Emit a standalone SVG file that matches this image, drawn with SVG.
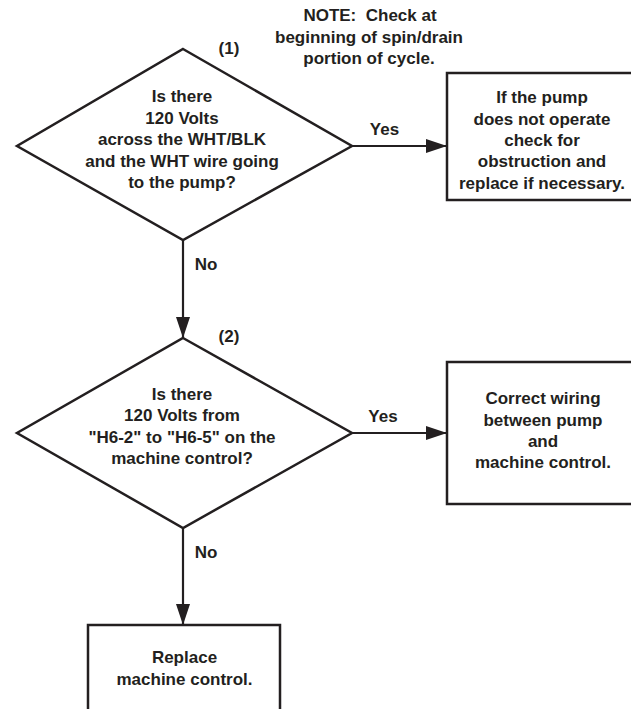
<svg xmlns="http://www.w3.org/2000/svg" width="631" height="709" viewBox="0 0 631 709">
<defs>
<style>
.t{font-family:"Liberation Sans",Arial,sans-serif;font-weight:bold;font-size:17px;fill:#231f20;text-anchor:middle}
.s{fill:#fff;stroke:#231f20;stroke-width:2.5}
.c{stroke:#231f20;stroke-width:2.2;fill:none}
</style>
<marker id="ah" markerWidth="21" markerHeight="14" refX="21" refY="7" orient="auto" markerUnits="userSpaceOnUse">
<path d="M0,0 L21,7 L0,14 Z" fill="#231f20"/>
</marker>
</defs>
<rect width="631" height="709" fill="#fff"/>
<g id="note">
<text class="t" x="370" y="21" xml:space="preserve" style="white-space:pre">NOTE:  Check at</text>
<text class="t" x="369" y="43">beginning of spin/drain</text>
<text class="t" x="369" y="64">portion of cycle.</text>
</g>
<g id="connectors">
<line class="c" x1="352" y1="146" x2="447" y2="146" marker-end="url(#ah)"/>
<line class="c" x1="183" y1="240" x2="183" y2="338" marker-end="url(#ah)"/>
<line class="c" x1="352" y1="433" x2="447" y2="433" marker-end="url(#ah)"/>
<line class="c" x1="183" y1="528" x2="183" y2="625" marker-end="url(#ah)"/>
<text class="t" x="384.5" y="135">Yes</text>
<text class="t" x="206" y="270">No</text>
<text class="t" x="383" y="422">Yes</text>
<text class="t" x="206" y="558">No</text>
</g>
<g id="decision1">
<polygon class="s" points="183,49 352,146 183,240 17,146"/>
<text class="t" x="229" y="54">(1)</text>
<text class="t" x="182" y="102">Is there</text>
<text class="t" x="182" y="123.5">120 Volts</text>
<text class="t" x="182" y="145">across the WHT/BLK</text>
<text class="t" x="182" y="166.5">and the WHT wire going</text>
<text class="t" x="182" y="188">to the pump?</text>
</g>
<g id="box1">
<rect class="s" x="447" y="73" width="200" height="127"/>
<text class="t" x="542" y="103">If the pump</text>
<text class="t" x="542" y="124.5">does not operate</text>
<text class="t" x="542" y="146">check for</text>
<text class="t" x="542" y="167">obstruction and</text>
<text class="t" x="542" y="188.5">replace if necessary.</text>
</g>
<g id="decision2">
<polygon class="s" points="183,338 352,433 183,528 17,433"/>
<text class="t" x="229" y="342">(2)</text>
<text class="t" x="182" y="400">Is there</text>
<text class="t" x="182" y="421.3">120 Volts from</text>
<text class="t" x="182" y="442.6">"H6-2" to "H6-5" on the</text>
<text class="t" x="182" y="464">machine control?</text>
</g>
<g id="box2">
<rect class="s" x="447" y="362" width="200" height="142"/>
<text class="t" x="543" y="404">Correct wiring</text>
<text class="t" x="543" y="425.7">between pump</text>
<text class="t" x="543" y="446.7">and</text>
<text class="t" x="543" y="468.3">machine control.</text>
</g>
<g id="box3">
<rect class="s" x="88" y="625" width="192" height="100"/>
<text class="t" x="184.5" y="663.3">Replace</text>
<text class="t" x="184.5" y="685">machine control.</text>
</g>
</svg>
